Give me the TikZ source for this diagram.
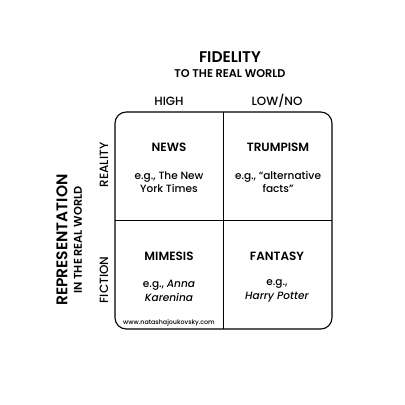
\documentclass[tikz,border=0pt]{standalone}
\usepackage{fontspec}
\setmainfont{Poppins}[UprightFont=* Medium, BoldFont=* SemiBold, ItalicFont=* Medium Italic, BoldItalicFont=* SemiBold Italic]
\usetikzlibrary{positioning}
\tikzstyle{axistitle} = [font=\fontsize{11}{12}\selectfont\bfseries, align=center]
\tikzstyle{axissub} = [font=\fontsize{8}{9}\selectfont\bfseries]
\tikzstyle{colhead} = [font=\fontsize{8.5}{10}\selectfont]
\tikzstyle{cellhead} = [font=\fontsize{8.5}{10}\selectfont\bfseries]
\tikzstyle{celltext} = [font=\fontsize{7.5}{9.5}\selectfont, align=center]

\begin{document}
\begin{tikzpicture}[x=0.025cm, y=-0.025cm]
    \useasboundingbox (0,0) rectangle (405,405);
    % outer frame and dividers
    \draw [thick, rounded corners=8pt] (115,112) rectangle (332,329);
    \coordinate (top) at (223,112);
    \coordinate (bottom) at (223,329);
    \coordinate (left) at (115,220);
    \coordinate (right) at (332,220);
    \draw (top) -- (bottom);
    \draw (left) -- (right);

    \node [axistitle] (fid) at (230,57) {FIDELITY};
    \node [axissub, below=0pt of fid, yshift=2pt] (fidsub) {TO THE REAL WORLD};
    \node [colhead] (high) at (169,101) {HIGH};
    \node [colhead] (low) at (277,101) {LOW/NO};

    \node [axistitle, rotate=90] (rep) at (62,240) {REPRESENTATION};
    \node [axissub, rotate=90] (repsub) at (78,240) {IN THE REAL WORLD};
    \node [colhead, rotate=90] (real) at (104,165) {REALITY};
    \node [colhead, rotate=90] (fic) at (104,280) {FICTION};

    \node [cellhead] (news) at (169,147) {NEWS};
    \node [celltext] (newsex) at (169,182) {e.g., The New\\York Times};
    \node [cellhead] (trump) at (278,147) {TRUMPISM};
    \node [celltext] (trumpex) at (278,182) {e.g., “alternative\\facts”};
    \node [cellhead] (mim) at (169,256) {MIMESIS};
    \node [celltext] (mimex) at (169,291) {e.g., \textit{Anna}\\\textit{Karenina}};
    \node [cellhead] (fan) at (277,256) {FANTASY};
    \node [celltext] (fanex) at (277,291) {e.g.,\\\textit{Harry Potter}};
    \node [font=\fontsize{4.5}{5}\selectfont] (web) at (169,323) {www.natashajoukovsky.com};
  \end{tikzpicture}
\end{document}
